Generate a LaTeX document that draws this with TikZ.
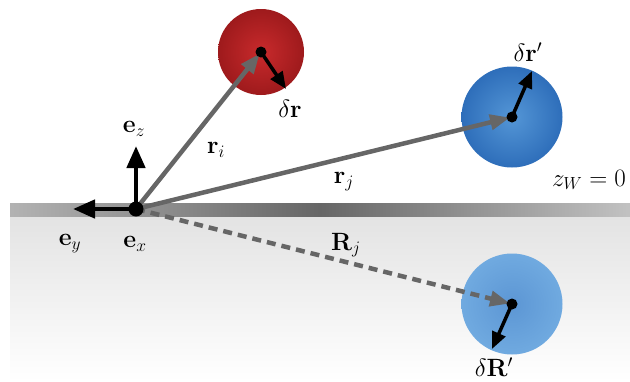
\RequirePackage{fix-cm}
\documentclass[tikz,border=0pt]{standalone}
\usetikzlibrary{arrows.meta}
\definecolor{redin}{RGB}{200,42,44}
\definecolor{redout}{RGB}{158,26,28}
\definecolor{bluein}{RGB}{84,150,214}
\definecolor{blueout}{RGB}{46,110,186}
\definecolor{lbin}{RGB}{92,150,212}
\definecolor{lbout}{RGB}{112,170,224}
\begin{document}
\begin{tikzpicture}[x=1pt,y=-1pt,
  garrow/.style={draw=black!60, line width=4.5pt, -{Triangle[length=20pt,width=15pt,fill=black!60]}},
  karrow/.style={draw=black, line width=4.5pt, -{Triangle[length=22pt,width=18pt]}},
  sarrow/.style={draw=black, line width=3.5pt, -{Triangle[length=17pt,width=14pt]}},
  dot/.style={circle, fill=black, inner sep=0pt, minimum size=11pt},
  ball/.style={circle, inner sep=0pt, minimum size=#1},
  lab/.style={font=\fontsize{25}{30}\selectfont, inner sep=0pt},
]
\useasboundingbox (0,0) rectangle (630,381);
% wall
\shade[top color=black!11, bottom color=white] (10,216) rectangle (630,381);
\shade[left color=black!30, right color=black!24, middle color=black!60] (10,203) rectangle (630,216);
% particles
\node[ball=86pt, inner color=redin, outer color=redout] (Bi) at (261,52) {};
\node[ball=101pt, inner color=bluein, outer color=blueout] (Bj) at (512,117) {};
\node[ball=101pt, inner color=lbin, outer color=lbout] (BR) at (512,304) {};
\coordinate (O) at (136,209);
\coordinate (pi) at (261,52);
\coordinate (pj) at (512,117);
\coordinate (pR) at (512,304);
% position vectors
\draw[garrow, shorten >=2pt] (O) -- (pi);
\draw[garrow, shorten >=2pt] (O) -- (pj);
\draw[garrow, shorten >=2pt, dash pattern=on 9pt off 6pt] (O) -- (pR);
% dots
\node[dot] (di) at (pi) {};
\node[dot] (dj) at (pj) {};
\node[dot] (dR) at (pR) {};
% displacements
\coordinate (ti) at (286,89);
\coordinate (tj) at (532,71);
\coordinate (tR) at (492,349);
\draw[sarrow] (di.center) -- (ti);
\draw[sarrow] (dj.center) -- (tj);
\draw[sarrow] (dR.center) -- (tR);
% unit vectors
\coordinate (ez) at (136,146);
\coordinate (ey) at (73,209);
\draw[karrow] (O) -- (ez);
\draw[karrow] (O) -- (ey);
\node[dot, minimum size=15pt] (Od) at (O) {};
% labels
\node[lab] (lez) at (134,129) {$\mathbf{e}_z$};
\node[lab] (lri) at (216,150) {$\mathbf{r}_i$};
\node[lab] (lrj) at (344,182) {$\mathbf{r}_j$};
\node[lab] (lRj) at (346,245) {$\mathbf{R}_j$};
\node[lab] (ley) at (70,244) {$\mathbf{e}_y$};
\node[lab] (lex) at (135,244) {$\mathbf{e}_x$};
\node[lab] (ldr) at (290,109) {$\delta\mathbf{r}$};
\node[lab] (ldrp) at (528,52) {$\delta\mathbf{r}'$};
\node[lab] (ldR) at (494,367) {$\delta\mathbf{R}'$};
\node[lab] (lzw) at (589,180) {$z_W = 0$};
\end{tikzpicture}
\end{document}
